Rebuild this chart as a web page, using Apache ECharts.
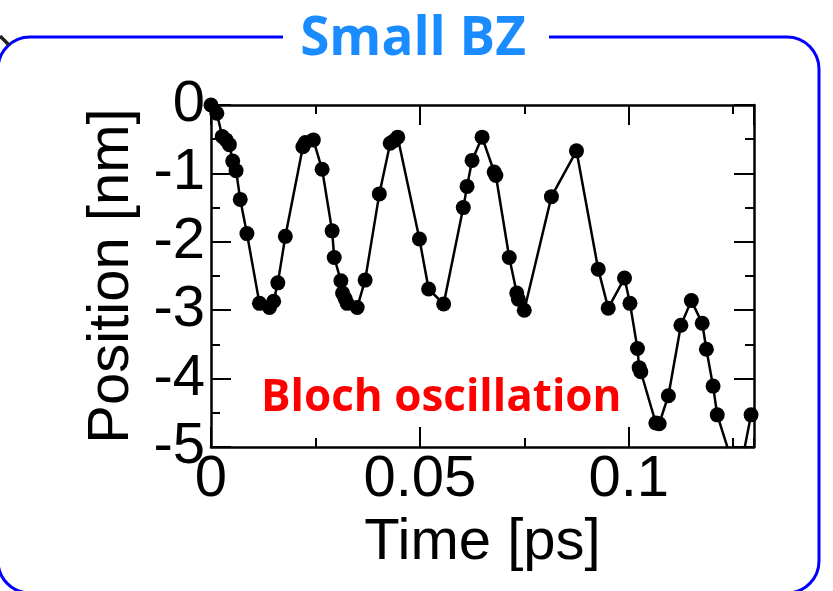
<!DOCTYPE html>
<html>
<head>
<meta charset="utf-8">
<script src="https://cdn.jsdelivr.net/npm/echarts@6/dist/echarts.min.js"></script>
<style>
html,body{margin:0;padding:0;background:#fff;}
#chart{width:833px;height:591px;}
</style>
</head>
<body>
<div id="chart"></div>
<script>
// Data
const timePs = [
  0.0000, 0.0014, 0.0027, 0.0036, 0.0044, 0.0052, 0.0060, 0.0070, 0.0086, 0.0116,
  0.0140, 0.0150, 0.0160, 0.0178, 0.0220, 0.0226, 0.0245, 0.0266, 0.0290, 0.0295,
  0.0311, 0.0315, 0.0321, 0.0326, 0.0350, 0.0369, 0.0403, 0.0429, 0.0439, 0.0447,
  0.0499, 0.0521, 0.0557, 0.0604, 0.0613, 0.0625, 0.0649, 0.0678, 0.0682, 0.0714,
  0.0732, 0.0736, 0.0750, 0.0815, 0.0875, 0.0927, 0.0951, 0.0990, 0.1003, 0.1021,
  0.1025, 0.1029, 0.1065, 0.1073, 0.1095, 0.1125, 0.1150, 0.1176, 0.1186, 0.1202,
  0.1212, 0.1262, 0.1293
];
const positionNm = [
  0.00, -0.12, -0.46, -0.51, -0.58, -0.82, -0.96, -1.38, -1.88, -2.90,
  -2.96, -2.87, -2.60, -1.92, -0.61, -0.55, -0.51, -0.94, -1.84, -2.23,
  -2.57, -2.75, -2.83, -2.90, -2.96, -2.56, -1.30, -0.56, -0.52, -0.47,
  -1.96, -2.69, -2.91, -1.50, -1.19, -0.81, -0.47, -0.98, -1.03, -2.23,
  -2.75, -2.84, -3.00, -1.34, -0.67, -2.40, -2.97, -2.53, -2.90, -3.56,
  -3.84, -3.90, -4.65, -4.66, -4.25, -3.22, -2.86, -3.19, -3.57, -4.11,
  -4.53, -5.50, -4.53
];
const xTickLabels = {"0": "0", "0.05": "0.05", "0.1": "0.1"};
const titleText = "Small BZ";
const noteText = "Bloch oscillation";
const xName = "Time [ps]";
const yName = "Position [nm]";

const seriesData = timePs.map((t, i) => [t, positionNm[i]]);

const AXIS_FONT = '"Liberation Sans", Arial, sans-serif';
const gridPos = {left: 211, top: 105, width: 543, height: 342};

function majorTick(len){ return {show:true, inside:true, length:len, lineStyle:{color:'#000', width:2}}; }

const option = {
  animation: false,
  backgroundColor: '#fff',
  grid: [
    Object.assign({}, gridPos),
    Object.assign({}, gridPos)
  ],
  xAxis: [
    { gridIndex:0, type:'value', position:'bottom', min:0, max:0.13, interval:0.05,
      axisLine:{show:true, onZero:false, lineStyle:{color:'#000', width:2.5}},
      axisTick: majorTick(20),
      splitLine:{show:false},
      axisLabel:{show:true, showMaxLabel:false, margin:4, color:'#000', fontSize:58, fontFamily:AXIS_FONT,
        formatter: v => { const k = String(+v.toFixed(3)); return xTickLabels[k] !== undefined ? xTickLabels[k] : ''; }},
      name:xName, nameLocation:'middle', nameGap:62,
      nameTextStyle:{color:'#000', fontSize:58, fontFamily:AXIS_FONT}
    },
    { gridIndex:0, type:'value', position:'top', min:0, max:0.13, interval:0.05,
      axisLine:{show:true, onZero:false, lineStyle:{color:'#000', width:2.5}},
      axisTick: majorTick(20), splitLine:{show:false}, axisLabel:{show:false}
    },
    { gridIndex:1, type:'value', position:'bottom', min:0, max:0.13, interval:0.025,
      axisLine:{show:false, onZero:false}, axisTick: majorTick(9), splitLine:{show:false}, axisLabel:{show:false}
    },
    { gridIndex:1, type:'value', position:'top', min:0, max:0.13, interval:0.025,
      axisLine:{show:false, onZero:false}, axisTick: majorTick(9), splitLine:{show:false}, axisLabel:{show:false}
    }
  ],
  yAxis: [
    { gridIndex:0, type:'value', position:'left', min:-5, max:0, interval:1,
      axisLine:{show:true, onZero:false, lineStyle:{color:'#000', width:2.5}},
      axisTick: majorTick(20), splitLine:{show:false},
      axisLabel:{show:true, margin:6, color:'#000', fontSize:58, fontFamily:AXIS_FONT},
      name:yName, nameLocation:'middle', nameGap:70, nameRotate:90,
      nameTextStyle:{color:'#000', fontSize:58, fontFamily:AXIS_FONT}
    },
    { gridIndex:0, type:'value', position:'right', min:-5, max:0, interval:1,
      axisLine:{show:true, onZero:false, lineStyle:{color:'#000', width:2.5}},
      axisTick: majorTick(20), splitLine:{show:false}, axisLabel:{show:false}
    },
    { gridIndex:1, type:'value', position:'left', min:-5, max:0, interval:0.5,
      axisLine:{show:false, onZero:false}, axisTick: majorTick(9), splitLine:{show:false}, axisLabel:{show:false}
    },
    { gridIndex:1, type:'value', position:'right', min:-5, max:0, interval:0.5,
      axisLine:{show:false, onZero:false}, axisTick: majorTick(9), splitLine:{show:false}, axisLabel:{show:false}
    }
  ],
  series: [{
    type:'line', xAxisIndex:0, yAxisIndex:0, data: seriesData,
    symbol:'circle', symbolSize:15, showAllSymbol:true, clip:true,
    itemStyle:{color:'#000'}, lineStyle:{color:'#000', width:2.5}, z:3
  }],
  graphic: [
    { type:'rect', z:-10, silent:true,
      shape:{x:-2, y:37, width:821, height:556, r:32},
      style:{fill:'none', stroke:'#0000ff', lineWidth:3} },
    { type:'rect', z:-9, silent:true,
      shape:{x:283, y:30, width:266, height:14},
      style:{fill:'#fff'} },
    { type:'line', z:-8, silent:true,
      shape:{x1:0, y1:36, x2:9, y2:45},
      style:{stroke:'#222', lineWidth:3.5} },
    { type:'text', z:10, silent:true,
      style:{text:titleText, x:413, y:40, align:'center', verticalAlign:'middle',
        fill:'#1a8cff', font:'bold 53px "Open Sans", sans-serif'} },
    { type:'text', z:10, silent:true,
      style:{text:noteText, x:261, y:398, align:'left', verticalAlign:'middle',
        fill:'#ff0000', font:'bold 44px "Open Sans", sans-serif'} }
  ]
};

const chart = echarts.init(document.getElementById('chart'), null, {renderer:'canvas'});
chart.setOption(option);
</script>
</body>
</html>
